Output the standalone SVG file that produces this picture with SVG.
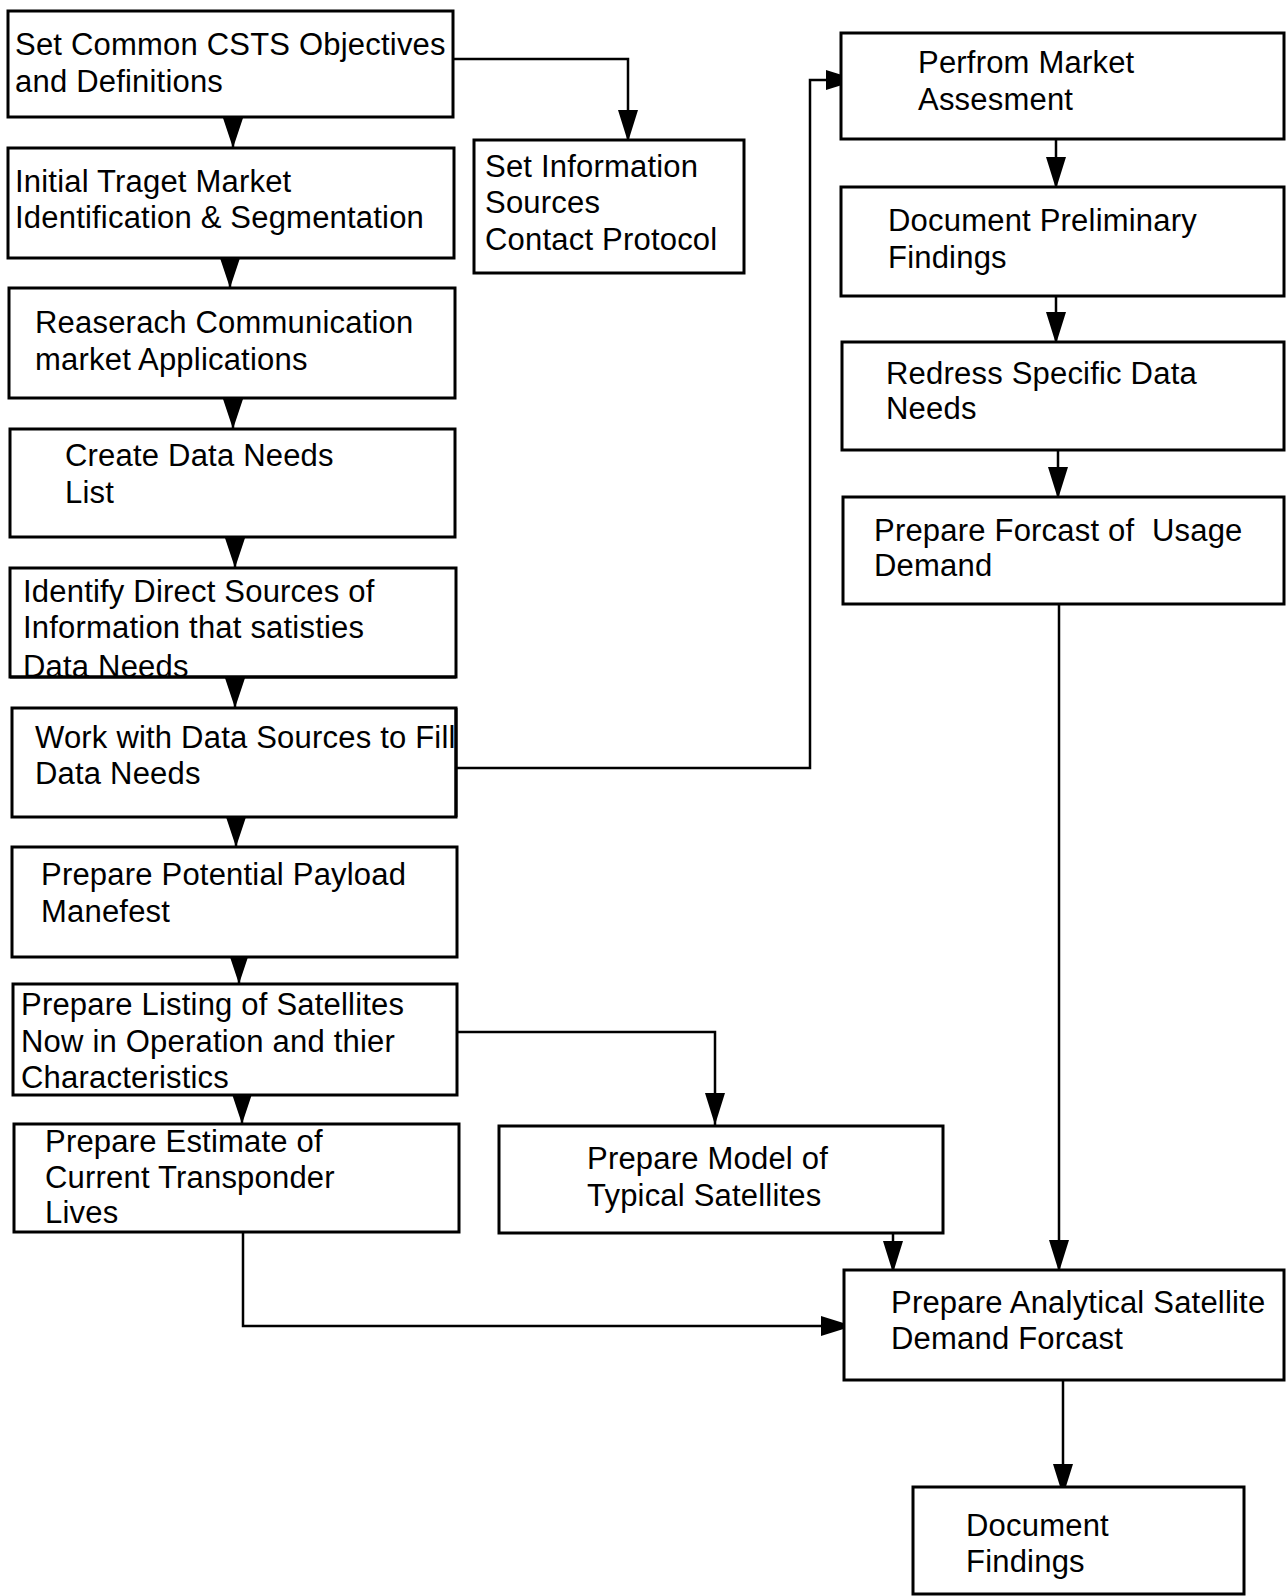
<svg xmlns="http://www.w3.org/2000/svg" width="1286" height="1596" viewBox="0 0 1286 1596">
  <style>
    .box { fill: #fff; stroke: #000; stroke-width: 3; }
    .lbl { font-family: "Liberation Sans", Arial, Helvetica, sans-serif; font-size: 31px; letter-spacing: 0.2px; fill: #000; white-space: pre; }
    .wire { fill: none; stroke: #000; stroke-width: 2.5; }
  </style>
  <defs>
    <!-- long arrowhead used on routed connectors -->
    <marker id="head" viewBox="0 0 32 20" markerWidth="32" markerHeight="20" refX="32" refY="10" orient="auto" markerUnits="userSpaceOnUse">
      <path d="M0,0 L32,10 L0,20 Z" fill="#000"/>
    </marker>
    <!-- short arrowhead filling the gap between stacked boxes -->
    <marker id="stub" viewBox="0 0 30 20" markerWidth="30" markerHeight="20" refX="30" refY="10" orient="auto" markerUnits="userSpaceOnUse">
      <path d="M0,0 L30,10 L0,20 Z" fill="#000"/>
    </marker>
  </defs>
  <rect width="1286" height="1596" fill="#fff"/>

  <!-- connectors -->
  <g id="connectors">
    <path class="wire" marker-end="url(#stub)" d="M233,118 V148"/>
    <path class="wire" marker-end="url(#stub)" d="M230,259 V288"/>
    <path class="wire" marker-end="url(#stub)" d="M233,399 V429"/>
    <path class="wire" marker-end="url(#stub)" d="M235,538 V568"/>
    <path class="wire" marker-end="url(#stub)" d="M235,678 V708"/>
    <path class="wire" marker-end="url(#stub)" d="M236,818 V847"/>
    <path class="wire" marker-end="url(#stub)" d="M239,955 V984"/>
    <path class="wire" marker-end="url(#stub)" d="M242,1094 V1124"/>

    <path class="wire" marker-end="url(#head)" d="M453,59 H628 V142"/>
    <path class="wire" marker-end="url(#head)" d="M457,768 H810 V80 H858"/>
    <path class="wire" marker-end="url(#head)" d="M457,1032 H715 V1125"/>
    <path class="wire" marker-end="url(#head)" d="M243,1232 V1326 H853"/>

    <path class="wire" marker-end="url(#head)" d="M1056,139 V189"/>
    <path class="wire" marker-end="url(#head)" d="M1056,296 V344"/>
    <path class="wire" marker-end="url(#head)" d="M1058,450 V499"/>
    <path class="wire" marker-end="url(#head)" d="M1059,604 V1272"/>
    <path class="wire" marker-end="url(#head)" d="M893,1233 V1273"/>
    <path class="wire" marker-end="url(#head)" d="M1063,1380 V1496"/>
  </g>

  <g id="objectives">
    <rect class="box" x="8" y="11" width="445" height="106"/>
    <text class="lbl" x="15" y="55">Set Common CSTS Objectives</text>
    <text class="lbl" x="15" y="92">and Definitions</text>
  </g>
  <g id="target-market">
    <rect class="box" x="8" y="148" width="446" height="110"/>
    <text class="lbl" x="15" y="192">Initial Traget Market</text>
    <text class="lbl" x="15" y="228">Identification &amp; Segmentation</text>
  </g>
  <g id="research">
    <rect class="box" x="9" y="288" width="446" height="110"/>
    <text class="lbl" x="35" y="333">Reaserach Communication</text>
    <text class="lbl" x="35" y="370">market Applications</text>
  </g>
  <g id="data-needs">
    <rect class="box" x="10" y="429" width="445" height="108"/>
    <text class="lbl" x="65" y="466">Create Data Needs</text>
    <text class="lbl" x="65" y="503">List</text>
  </g>
  <g id="direct-sources">
    <rect class="box" x="10" y="568" width="446" height="109"/>
    <text class="lbl" x="23" y="602">Identify Direct Sources of</text>
    <text class="lbl" x="23" y="638">Information that satisties</text>
    <text class="lbl" x="23" y="677">Data Needs</text>
    <line x1="10" y1="677" x2="456" y2="677" stroke="#000" stroke-width="3"/>
  </g>
  <g id="work-sources">
    <rect class="box" x="12" y="708" width="444" height="109"/>
    <text class="lbl" x="35" y="748">Work with Data Sources to Fill</text>
    <line x1="456" y1="708" x2="456" y2="817" stroke="#000" stroke-width="3"/>
    <text class="lbl" x="35" y="784">Data Needs</text>
  </g>
  <g id="payload">
    <rect class="box" x="12" y="847" width="445" height="110"/>
    <text class="lbl" x="41" y="885">Prepare Potential Payload</text>
    <text class="lbl" x="41" y="922">Manefest</text>
  </g>
  <g id="listing">
    <rect class="box" x="13" y="984" width="444" height="111"/>
    <text class="lbl" x="21" y="1015">Prepare Listing of Satellites</text>
    <text class="lbl" x="21" y="1052">Now in Operation and thier</text>
    <text class="lbl" x="21" y="1088">Characteristics</text>
  </g>
  <g id="transponder">
    <rect class="box" x="14" y="1124" width="445" height="108"/>
    <text class="lbl" x="45" y="1152">Prepare Estimate of</text>
    <text class="lbl" x="45" y="1188">Current Transponder</text>
    <text class="lbl" x="45" y="1223">Lives</text>
  </g>
  <g id="protocol">
    <rect class="box" x="474" y="140" width="270" height="133"/>
    <text class="lbl" x="485" y="177">Set Information</text>
    <text class="lbl" x="485" y="213">Sources</text>
    <text class="lbl" x="485" y="250">Contact Protocol</text>
  </g>
  <g id="model">
    <rect class="box" x="499" y="1126" width="444" height="107"/>
    <text class="lbl" x="587" y="1169">Prepare Model of</text>
    <text class="lbl" x="587" y="1206">Typical Satellites</text>
  </g>
  <g id="assessment">
    <rect class="box" x="841" y="33" width="443" height="106"/>
    <text class="lbl" x="918" y="73">Perfrom Market</text>
    <text class="lbl" x="918" y="110">Assesment</text>
  </g>
  <g id="preliminary">
    <rect class="box" x="841" y="187" width="443" height="109"/>
    <text class="lbl" x="888" y="231">Document Preliminary</text>
    <text class="lbl" x="888" y="268">Findings</text>
  </g>
  <g id="redress">
    <rect class="box" x="842" y="342" width="442" height="108"/>
    <text class="lbl" x="886" y="384">Redress Specific Data</text>
    <text class="lbl" x="886" y="419">Needs</text>
  </g>
  <g id="usage">
    <rect class="box" x="843" y="497" width="441" height="107"/>
    <text class="lbl" x="874" y="541" xml:space="preserve">Prepare Forcast of  Usage</text>
    <text class="lbl" x="874" y="576">Demand</text>
  </g>
  <g id="analytical">
    <rect class="box" x="844" y="1270" width="440" height="110"/>
    <text class="lbl" x="891" y="1313">Prepare Analytical Satellite</text>
    <text class="lbl" x="891" y="1349">Demand Forcast</text>
  </g>
  <g id="findings">
    <rect class="box" x="913" y="1487" width="331" height="107"/>
    <text class="lbl" x="966" y="1536">Document</text>
    <text class="lbl" x="966" y="1572">Findings</text>
  </g>
</svg>
